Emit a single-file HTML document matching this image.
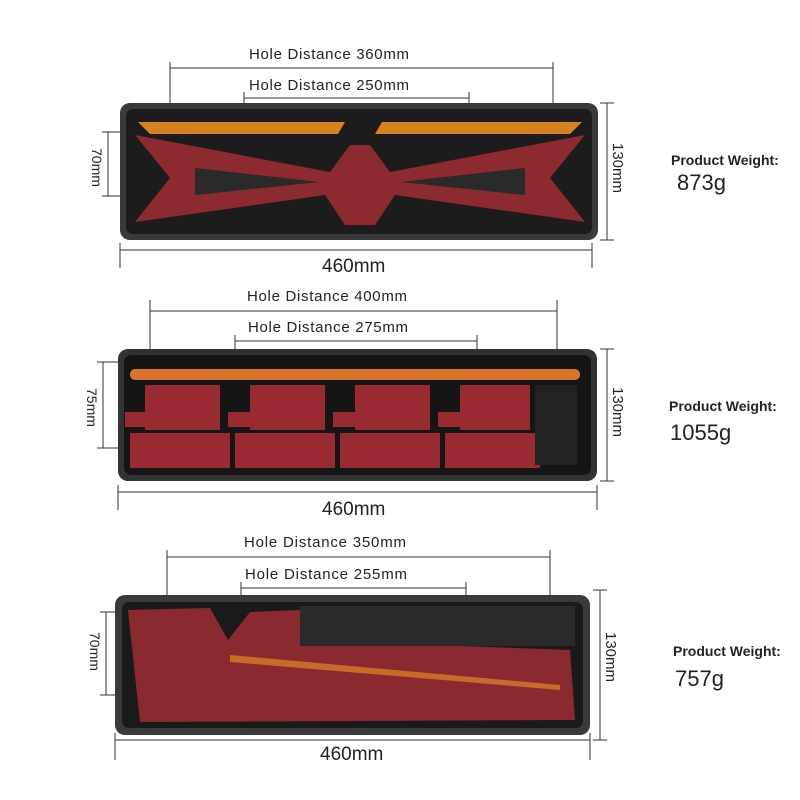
<!DOCTYPE html>
<html><head><meta charset="utf-8"><style>
html,body{margin:0;padding:0;background:#fff;}
svg{display:block;font-family:"Liberation Sans",sans-serif;}
</style></head><body>
<svg width="800" height="800" viewBox="0 0 800 800" xmlns="http://www.w3.org/2000/svg">
<g stroke="#333" stroke-width="1" fill="none">
<line x1="170" y1="68" x2="553" y2="68"/><line x1="170" y1="62" x2="170" y2="105"/><line x1="553" y1="62" x2="553" y2="105"/>
<line x1="244" y1="98" x2="469" y2="98"/><line x1="244" y1="92" x2="244" y2="105"/><line x1="469" y1="92" x2="469" y2="105"/>
<line x1="607" y1="103" x2="607" y2="240"/><line x1="600" y1="103" x2="614" y2="103"/><line x1="600" y1="240" x2="614" y2="240"/>
<line x1="108" y1="132" x2="108" y2="196"/><line x1="102" y1="132" x2="122" y2="132"/><line x1="102" y1="196" x2="122" y2="196"/>
<line x1="120" y1="250" x2="592" y2="250"/><line x1="120" y1="243" x2="120" y2="268"/><line x1="592" y1="243" x2="592" y2="268"/>
<line x1="150" y1="311" x2="557" y2="311"/><line x1="150" y1="300" x2="150" y2="350"/><line x1="557" y1="300" x2="557" y2="350"/>
<line x1="235" y1="341" x2="477" y2="341"/><line x1="235" y1="335" x2="235" y2="350"/><line x1="477" y1="335" x2="477" y2="350"/>
<line x1="607" y1="349" x2="607" y2="481"/><line x1="600" y1="349" x2="614" y2="349"/><line x1="600" y1="481" x2="614" y2="481"/>
<line x1="103" y1="362" x2="103" y2="448"/><line x1="97" y1="362" x2="120" y2="362"/><line x1="97" y1="448" x2="120" y2="448"/>
<line x1="118" y1="492" x2="597" y2="492"/><line x1="118" y1="485" x2="118" y2="510"/><line x1="597" y1="485" x2="597" y2="510"/>
<line x1="167" y1="557" x2="550" y2="557"/><line x1="167" y1="550" x2="167" y2="598"/><line x1="550" y1="550" x2="550" y2="598"/>
<line x1="241" y1="588" x2="466" y2="588"/><line x1="241" y1="582" x2="241" y2="598"/><line x1="466" y1="582" x2="466" y2="598"/>
<line x1="600" y1="590" x2="600" y2="740"/><line x1="593" y1="590" x2="607" y2="590"/><line x1="593" y1="740" x2="607" y2="740"/>
<line x1="106" y1="612" x2="106" y2="695"/><line x1="100" y1="612" x2="122" y2="612"/><line x1="100" y1="695" x2="122" y2="695"/>
<line x1="115" y1="740" x2="590" y2="740"/><line x1="115" y1="733" x2="115" y2="760"/><line x1="590" y1="733" x2="590" y2="760"/>
</g>

<rect x="120" y="103" width="478" height="137" rx="10" fill="#3a3a3a"/>
<rect x="126" y="109" width="466" height="125" rx="7" fill="#1c1c1c"/>
<path d="M135 135 L330 172 L350 145 L370 145 L390 172 L585 135 L550 178 L585 222 L395 195 L375 225 L345 225 L325 195 L135 222 L170 178 Z" fill="#8c2a30"/>
<path d="M195 168 L320 182 L195 195 Z M525 168 L400 182 L525 195 Z" fill="#2a2a2a"/>
<path d="M138 122 L345 122 L338 134 L150 134 Z M375 134 L382 122 L582 122 L570 134 Z" fill="#d8821f"/>

<rect x="118" y="349" width="479" height="132" rx="10" fill="#333"/>
<rect x="124" y="355" width="467" height="120" rx="7" fill="#151515"/>
<rect x="130" y="369" width="450" height="11" rx="5" fill="#d9742a"/>
<g fill="#9a2a32">
<rect x="145" y="385" width="75" height="45"/><rect x="125" y="412" width="30" height="15"/><rect x="130" y="433" width="100" height="35"/>
<rect x="250" y="385" width="75" height="45"/><rect x="228" y="412" width="30" height="15"/><rect x="235" y="433" width="100" height="35"/>
<rect x="355" y="385" width="75" height="45"/><rect x="333" y="412" width="30" height="15"/><rect x="340" y="433" width="100" height="35"/>
<rect x="460" y="385" width="70" height="45"/><rect x="438" y="412" width="30" height="15"/><rect x="445" y="433" width="95" height="35"/>
</g>
<rect x="535" y="385" width="42" height="80" fill="#222"/>

<rect x="115" y="595" width="475" height="140" rx="10" fill="#3a3a3a"/>
<rect x="122" y="602" width="461" height="126" rx="7" fill="#1a1a1a"/>
<path d="M128 610 L210 608 L228 640 L250 612 L300 610 L300 640 L570 650 L575 720 L140 722 Z" fill="#8a2a30"/>
<rect x="300" y="606" width="275" height="40" fill="#2a2a2a"/>
<path d="M230 655 L560 685 L560 690 L230 662 Z" fill="#c76a2a"/>

<g fill="#222" font-size="15" font-weight="bold" style="font-weight:600">
<text x="249" y="59" textLength="160" font-weight="normal">Hole Distance 360mm</text>
<text x="249" y="90" textLength="160" font-weight="normal">Hole Distance 250mm</text>
<text x="247" y="301" textLength="160" font-weight="normal">Hole Distance 400mm</text>
<text x="248" y="332" textLength="160" font-weight="normal">Hole Distance 275mm</text>
<text x="244" y="547" textLength="162" font-weight="normal">Hole Distance 350mm</text>
<text x="245" y="579" textLength="162" font-weight="normal">Hole Distance 255mm</text>
</g>
<g fill="#222" font-size="19">
<text x="322" y="272">460mm</text>
<text x="322" y="515">460mm</text>
<text x="320" y="760">460mm</text>
</g>
<g fill="#222" font-size="14">
<text transform="translate(92,148) rotate(90)">70mm</text>
<text transform="translate(87,388) rotate(90)">75mm</text>
<text transform="translate(90,632) rotate(90)">70mm</text>
<text transform="translate(613,143) rotate(90)" font-size="15">130mm</text>
<text transform="translate(613,387) rotate(90)" font-size="15">130mm</text>
<text transform="translate(606,632) rotate(90)" font-size="15">130mm</text>
</g>
<g fill="#222">
<text x="671" y="165" font-size="14" font-weight="bold">Product Weight:</text>
<text x="677" y="190" font-size="22">873g</text>
<text x="669" y="411" font-size="14" font-weight="bold">Product Weight:</text>
<text x="670" y="440" font-size="22">1055g</text>
<text x="673" y="656" font-size="14" font-weight="bold">Product Weight:</text>
<text x="675" y="686" font-size="22">757g</text>
</g>
</svg>
</body></html>
